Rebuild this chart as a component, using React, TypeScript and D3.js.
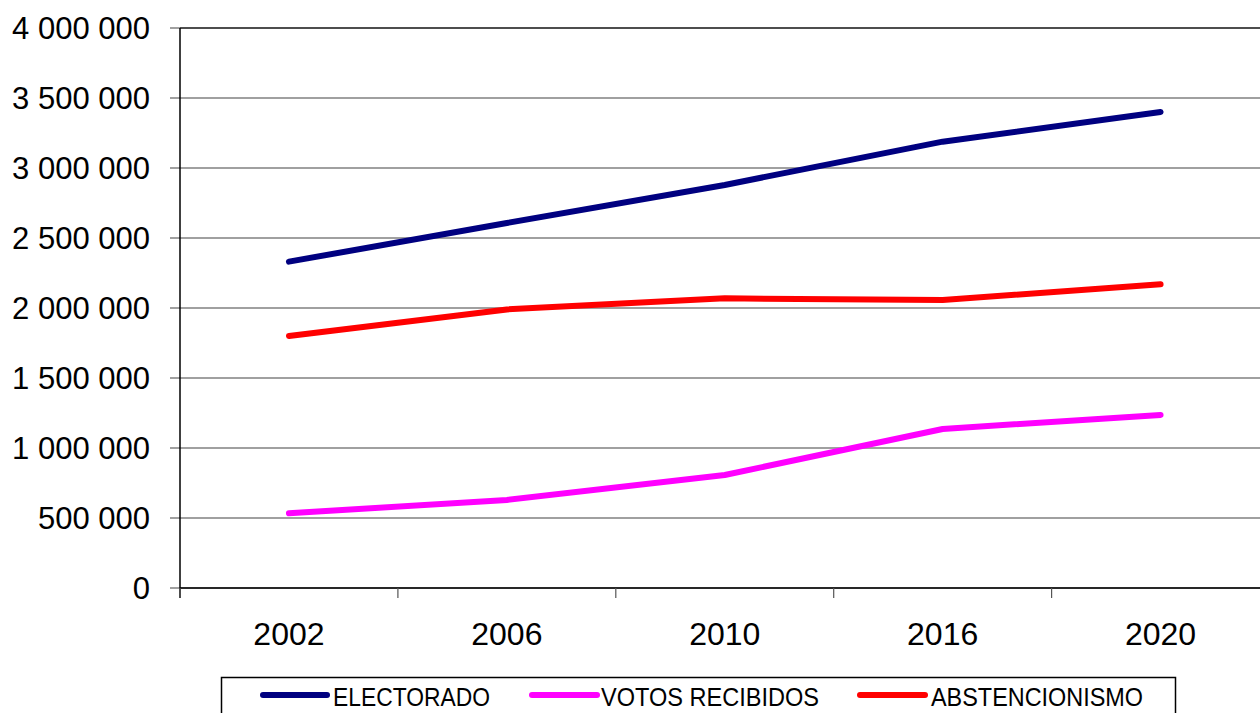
import React from "react";
import * as d3 from "d3";

const categories = ["2002", "2006", "2010", "2016", "2020"];
const electorado = [2331000, 2607000, 2879000, 3188000, 3400000];
const votosRecibidos = [534000, 629000, 807000, 1136000, 1236000];
const abstencionismo = [1800000, 1990000, 2069000, 2057000, 2169000];
const yTicks = [0, 500000, 1000000, 1500000, 2000000, 2500000, 3000000, 3500000, 4000000];

const seriesNames = ["ELECTORADO", "VOTOS RECIBIDOS", "ABSTENCIONISMO"];
const seriesColors = ["#000080", "#FF00FF", "#FF0000"];
const seriesData = [electorado, votosRecibidos, abstencionismo];

const W = 1260;
const H = 713;
const left = 180;
const top = 28;
const bottom = 588;
const bandW = 217.9;

const fmt = (v: number) =>
  v === 0 ? "0" : d3.format(",")(v).replace(/,/g, " ");

export default function App() {
  const x = d3
    .scaleBand<string>()
    .domain(categories)
    .range([left, left + bandW * categories.length])
    .paddingInner(0)
    .paddingOuter(0);
  const y = d3.scaleLinear().domain([0, 4000000]).range([bottom, top]);
  const line = d3
    .line<number>()
    .x((_, i) => (x(categories[i]) as number) + x.bandwidth() / 2)
    .y((d) => y(d));

  const legendItems = [
    { lx1: 263, lx2: 327, tx: 333, tw: 157 },
    { lx1: 532, lx2: 597, tx: 601, tw: 218 },
    { lx1: 860, lx2: 925, tx: 931, tw: 212 },
  ];

  const xEdges = categories.map((c) => x(c) as number);

  return (
    <svg
      width={W}
      height={H}
      style={{ position: "absolute", left: 0, top: 0, background: "#fff" }}
      fontFamily="'Liberation Sans', Arial, sans-serif"
    >
      {yTicks.map((t) => (
        <line
          key={"g" + t}
          x1={170}
          x2={W}
          y1={y(t)}
          y2={y(t)}
          stroke="#808080"
          strokeWidth={1.5}
        />
      ))}
      <line x1={left} x2={W} y1={top} y2={top} stroke="#333" strokeWidth={1.5} />
      <line x1={left} x2={left} y1={top} y2={bottom + 10} stroke="#000" strokeWidth={1.5} />
      <line x1={left} x2={W} y1={bottom} y2={bottom} stroke="#000" strokeWidth={1.5} />
      {xEdges.map((e, i) => (
        <line
          key={"xt" + i}
          x1={e}
          x2={e}
          y1={bottom}
          y2={bottom + 10}
          stroke="#555"
          strokeWidth={1.2}
        />
      ))}
      {yTicks.map((t) => (
        <text
          key={"yl" + t}
          x={150}
          y={y(t) + 11}
          textAnchor="end"
          fontSize={31}
          fill="#000"
        >
          {fmt(t)}
        </text>
      ))}
      {categories.map((c) => (
        <text
          key={"xl" + c}
          x={(x(c) as number) + x.bandwidth() / 2}
          y={645}
          textAnchor="middle"
          fontSize={32}
          fill="#000"
        >
          {c}
        </text>
      ))}
      {seriesData.map((s, i) => (
        <path
          key={"s" + i}
          d={line(s) || ""}
          fill="none"
          stroke={seriesColors[i]}
          strokeWidth={6}
          strokeLinecap="round"
          strokeLinejoin="round"
        />
      ))}
      <rect x={221.5} y={677.5} width={954} height={60} fill="#fff" stroke="#000" strokeWidth={1.5} />
      {legendItems.map((it, i) => (
        <g key={"lg" + i}>
          <line
            x1={it.lx1}
            x2={it.lx2}
            y1={695}
            y2={695}
            stroke={seriesColors[i]}
            strokeWidth={6}
            strokeLinecap="round"
          />
          <text
            x={it.tx}
            y={706}
            fontSize={25.5}
            textLength={it.tw}
            lengthAdjust="spacingAndGlyphs"
            fill="#000"
          >
            {seriesNames[i]}
          </text>
        </g>
      ))}
    </svg>
  );
}
